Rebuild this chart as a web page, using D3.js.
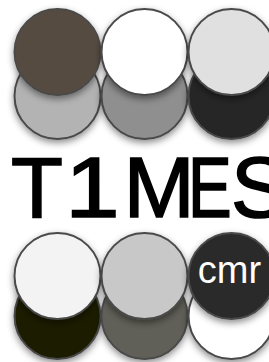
<!DOCTYPE html>
<html>
<head>
  <meta charset="utf-8">
  <title>cmr logo</title>
  <script src="https://cdnjs.cloudflare.com/ajax/libs/d3/7.8.5/d3.min.js"></script>
</head>
<style>
  body { margin: 0; background: #fff; }
  svg { display: block; }
</style>
<body>
<svg id="svg" width="269" height="362"></svg>
<script type="text/javascript">
const columns = [0, 1, 2];
const upperBack = ['#b3b3b3', '#8f8f8f', '#262626'];
const upperFront = ['#574c40', '#ffffff', '#e0e0e0'];
const lowerBack = ['#1f1a00', '#606058', '#ffffff'];
const lowerFront = ['#f3f3f3', '#c8c8c8', '#2a2a2a'];
const title = 'T1MES';
const badge = 'cmr';

const r = 43;

const svg = d3.select('svg');

const defs = svg.append('defs');
defs.append('filter')
  .attr('id', 'shadow')
  .attr('x', '-30%').attr('y', '-30%')
  .attr('width', '160%').attr('height', '160%')
  .append('feDropShadow')
  .attr('dx', 0).attr('dy', 3)
  .attr('stdDeviation', 3.5)
  .attr('flood-color', '#000')
  .attr('flood-opacity', 0.45);

const x = d3.scaleBand()
  .domain(columns)
  .range([14, 14 + 87 * 3])
  .padding(0);

// row centres: front (upper) and back (lower) circle rows of each block
const y = d3.scaleOrdinal()
  .domain(['upperFront', 'upperBack', 'lowerFront', 'lowerBack'])
  .range([52, 96, 276, 316]);

function row(colors, key) {
  svg.append('g')
    .selectAll('circle')
    .data(colors)
    .enter()
    .append('circle')
    .attr('cx', (d, i) => x(columns[i]) + x.bandwidth() / 2)
    .attr('cy', y(key))
    .attr('r', r)
    .attr('fill', d => d)
    .attr('stroke', '#4a4a4a')
    .attr('stroke-width', 2)
    .attr('filter', 'url(#shadow)');
}

row(upperBack, 'upperBack');
row(upperFront, 'upperFront');

// pen position and advance of each title glyph (the logo's E is narrow)
const glyphX = [11, 65.3, 123.7, 187.9, 231.1];
const glyphLen = [51.9, 54.4, 70.8, 43.7, 56.7];
svg.append('g')
  .selectAll('text')
  .data(title.split(''))
  .join('text')
  .attr('x', (d, i) => glyphX[i])
  .attr('y', 217)
  .attr('textLength', (d, i) => glyphLen[i])
  .attr('lengthAdjust', 'spacingAndGlyphs')
  .attr('font-family', 'Liberation Sans, Arial, sans-serif')
  .attr('font-size', 85)
  .attr('fill', '#000')
  .attr('stroke', '#000')
  .attr('stroke-width', 1.6)
  .text(d => d);

row(lowerBack, 'lowerBack');
row(lowerFront, 'lowerFront');

svg.append('text')
  .attr('x', x(columns[2]) + x.bandwidth() / 2 - 2)
  .attr('y', 283)
  .attr('text-anchor', 'middle')
  .attr('font-family', 'Liberation Sans, Arial, sans-serif')
  .attr('font-size', 38)
  .attr('fill', '#fff')
  .text(badge);
</script>
</body>
</html>
